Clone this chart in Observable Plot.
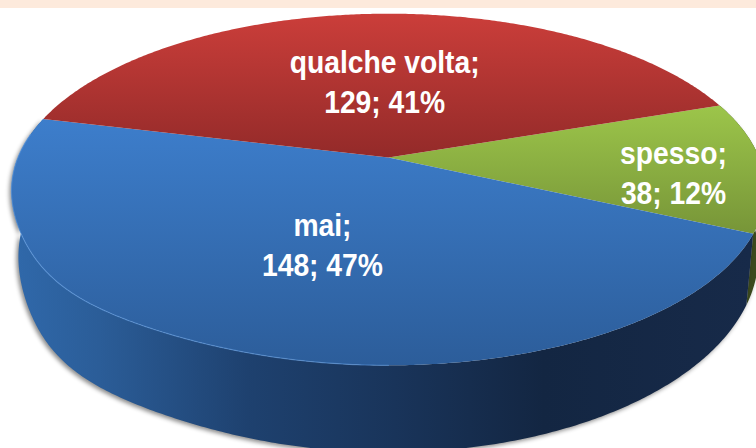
<!DOCTYPE html>
<html>
<head>
<meta charset="utf-8">
<script src="https://cdn.jsdelivr.net/npm/d3@7"></script>
<script src="https://cdn.jsdelivr.net/npm/@observablehq/plot@0.6"></script>
<style>html,body{margin:0;padding:0;background:#fff}</style>
</head>
<body>
<div id="chart"></div>
<script>
// Data, in drawing order, clockwise from the back right
const categories = ["spesso", "mai", "qualche volta"];
const counts = [38, 148, 129];
const percents = [12, 47, 41];

// Pie layout
const startDeg = -18.9;
const labelAngleDeg = [6.1, 109.4, 268.7];
const labelRadius = [0.762, 0.491, 0.498];

// Perspective of the two disks (in chart units); bulge is the fuller front-left shoulder
const topDisk = {cx: 388, cy: 157, A: 370.6, B: 170, p: 0.182, bulge: 0.02};
const baseDisk = {cx: 388, cy: 219, A: 363.7, B: 190.5, p: 0.182, bulge: 0.025};

function project(d, deg, r = 1) {
  const a = ((deg % 360) + 360) % 360;
  const s = r * (1 + (d.bulge || 0) * Math.exp(-(((a - 138) / 16) ** 2)));
  const t = deg * Math.PI / 180, u = s * Math.cos(t), v = s * Math.sin(t);
  const w = 1 - d.p * v;
  return [d.cx + d.A * u / w, d.cy + d.B * v / w];
}
const deg = (a) => a * 180 / Math.PI;
const pie = d3.pie().sort(null)
  .startAngle(startDeg * Math.PI / 180)
  .endAngle((startDeg + 360) * Math.PI / 180);
const arcs = pie(counts).map((a, i) => ({i, a0: deg(a.startAngle), a1: deg(a.endAngle)}));

function angles(a0, a1) {
  const n = Math.ceil(Math.abs(a1 - a0) / 0.5);
  return d3.range(n + 1).map((k) => a0 + (a1 - a0) * k / n);
}
function facePoints({i, a0, a1}) {
  return [[topDisk.cx, topDisk.cy], ...angles(a0, a1).map((a) => project(topDisk, a))]
    .map(([x, y]) => ({x, y, i}));
}
function wallPoints({i, a0, a1}) {
  const as = angles(a0, a1);
  return [...as.map((a) => project(topDisk, a)), ...as.slice().reverse().map((a) => project(baseDisk, a))]
    .map(([x, y]) => ({x, y, i}));
}
const rim = angles(90, 188).map((a) => {
  const [x, y] = project(topDisk, a);
  return {x, y};
});

const gradients = () => d3.create("svg:g").html(`<defs>
  <linearGradient id="faceRed" gradientUnits="userSpaceOnUse" x1="0" x2="0" y1="13" y2="157">
    <stop offset="0" stop-color="#cb3e3a"/><stop offset="1" stop-color="#932a29"/></linearGradient>
  <linearGradient id="faceBlue" gradientUnits="userSpaceOnUse" x1="0" x2="0" y1="117" y2="365">
    <stop offset="0" stop-color="#3d7ecc"/><stop offset="1" stop-color="#2c5d9a"/></linearGradient>
  <linearGradient id="faceGreen" gradientUnits="userSpaceOnUse" x1="0" x2="0" y1="106" y2="233">
    <stop offset="0" stop-color="#9cc54a"/><stop offset="1" stop-color="#779538"/></linearGradient>
  <linearGradient id="wallBlue" gradientUnits="userSpaceOnUse" x1="10" x2="750" y1="0" y2="0">
    <stop offset="0" stop-color="#3069ab"/><stop offset="0.12" stop-color="#2b5d98"/>
    <stop offset="0.32" stop-color="#1e416f"/><stop offset="0.52" stop-color="#19345a"/>
    <stop offset="0.72" stop-color="#132642"/><stop offset="1" stop-color="#172a49"/></linearGradient>
  </defs>`).node();

const faceFill = ["url(#faceGreen)", "url(#faceBlue)", "url(#faceRed)"];
const wallFill = ["#3b4a1e", "url(#wallBlue)", "#5a1a18"];
const labels = categories.map((c, i) => {
  const [x, y] = project(topDisk, labelAngleDeg[i], labelRadius[i]);
  return {x, y, text: `${c};\n${counts[i]}; ${percents[i]}%`};
});

const chart = Plot.plot({
  width: 756,
  height: 448,
  margin: 0,
  x: {domain: [0, 756], range: [0, 756], axis: null},
  y: {domain: [0, 448], range: [0, 448], axis: null},
  style: {
    background: "linear-gradient(#fdeadc 8px, #ffffff 8px)",
    fontFamily: "'Liberation Sans', Arial, sans-serif"
  },
  marks: [
    gradients,
    // side walls, back to front; red is hidden behind the top face
    arcs.filter((a) => a.i < 2).map((a) =>
      Plot.line(wallPoints(a), {
        x: "x", y: "y", fill: wallFill[a.i], stroke: "none", curve: "linear",
        imageFilter: "drop-shadow(-2px 2px 2px rgba(0,0,0,0.45))"
      })
    ),
    // top faces
    arcs.map((a) =>
      Plot.line(facePoints(a), {x: "x", y: "y", fill: faceFill[a.i], stroke: "none", curve: "linear"})
    ),
    // bevel highlight on the front-left edge
    Plot.line(rim, {x: "x", y: "y", stroke: "#5f9be2", strokeWidth: 1.2, strokeOpacity: 0.55, curve: "linear"}),
    Plot.text(labels, {
      x: "x", y: "y", text: "text", fill: "#ffffff",
      fontSize: 30.5, fontWeight: 700, lineHeight: 1.31, lineAnchor: "middle", textAnchor: "middle"
    })
  ]
});
// the reference's lettering is slightly condensed
d3.select(chart).selectAll("text").attr("transform", function () {
  return `${this.getAttribute("transform") || ""} scale(0.927,1)`;
});
document.getElementById("chart").append(chart);
</script>
</body>
</html>
